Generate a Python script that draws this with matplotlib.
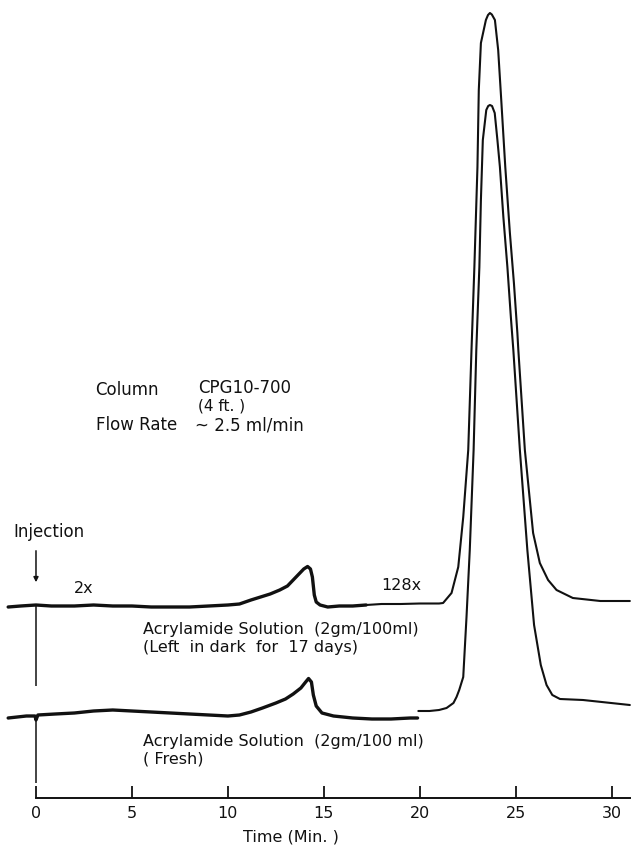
import matplotlib.pyplot as plt
import numpy as np

# Aged sample (left in dark for 17 days): retention time (min) and recorder response (chart units)
aged_time = [-1.45, -0.8, 0, 0.8, 2, 3, 4, 5, 6, 7, 8, 9, 10, 10.6, 11.2, 11.7, 12.2, 12.7,
             13.1, 13.4, 13.7, 13.95, 14.15, 14.3, 14.4, 14.5, 14.6, 14.8, 15.2, 15.8, 16.5,
             17.2, 18, 19, 20, 21, 21.21, 21.65, 22.0, 22.26, 22.52, 22.69, 22.84, 23.0,
             23.07, 23.18, 23.44, 23.55, 23.65, 23.75, 23.91, 24.08, 24.24, 24.45, 24.69, 24.9,
             25.08, 25.13, 25.47, 25.9, 26.25, 26.68, 27.12, 27.97, 29.4, 30.94]
aged_resp = [-1, 0, 1, 0, 0, 1, 0, 0, -1, -1, -1, 0, 1, 2, 6, 9, 12, 16,
             20, 26, 32, 37, 39.5, 37, 29, 11, 4, 1, -1, 0, 0,
             1, 2, 2, 2.5, 2.5, 3, 13, 39, 89, 156, 256, 339, 439,
             516, 563, 586, 591, 593, 591.5, 586, 556, 506, 439, 373, 323,
             273, 256, 156, 73, 43, 26, 16, 8, 5, 5]

# Fresh sample
fresh_time = [-1.45, -0.5, -0.05, 0, 0.1, 1, 2, 3, 4, 5, 6, 7, 8, 9, 10, 10.6, 11.2, 11.8,
              12.5, 13.0, 13.4, 13.8, 14.05, 14.2, 14.35, 14.45, 14.6, 14.9, 15.5, 16.5,
              17.5, 18.5, 19.5, 19.88, 19.92, 20.5, 21.0, 21.39, 21.75, 21.91, 22.05, 22.26,
              22.43, 22.6, 22.8, 22.94, 23.1, 23.18, 23.28, 23.46, 23.56, 23.65, 23.76,
              23.9, 24.04, 24.17, 24.35, 24.56, 24.74, 24.87, 25.21, 25.6, 25.95, 26.3, 26.6,
              26.9, 27.3, 28.5, 30.94]
fresh_resp = [-3, -1, -1, -5, 0, 1, 2, 4, 5, 4, 3, 2, 1, 0, -1, 0, 3, 7,
              12, 16, 21, 27, 33, 36.5, 33, 20, 9, 2, -1, -3,
              -4, -4, -3, -3, 4, 4, 5, 7, 12, 18, 25, 38,
              98, 165, 265, 365, 448, 515, 575, 605, 609, 610, 609,
              602, 575, 548, 498, 448, 398, 365, 265, 165, 90, 50, 30,
              20, 16, 15, 10]

# attenuation switched from 2x to 128x at these times
aged_switch = 17.2
fresh_switch = 19.9

time_ticks = [0, 5, 10, 15, 20, 25, 30]

# vertical placement of the two stacked traces
aged_base = 192
fresh_base = 83

plt.rcParams['font.family'] = ['DejaVu Sans']

fig = plt.figure(figsize=(6.31, 8.47), dpi=100)
ax = fig.add_axes([0, 0, 1, 1])
ax.set_xlim(-1.875, 31.0)
ax.set_ylim(-49, 798)

ink = '#111111'
for t, r, base, switch in [(aged_time, aged_resp, aged_base, aged_switch),
                           (fresh_time, fresh_resp, fresh_base, fresh_switch)]:
    t = np.array(t)
    y = np.array(r) + base
    low = t <= switch
    high = t >= switch
    ax.plot(t[low], y[low], color=ink, lw=2.4, solid_joinstyle='round', solid_capstyle='round')
    ax.plot(t[high], y[high], color=ink, lw=1.5, solid_joinstyle='round', solid_capstyle='round')

# injection marks
ax.vlines(0, aged_base - 80, aged_base, color=ink, lw=1.1)
ax.vlines(0, fresh_base - 68, fresh_base, color=ink, lw=1.1)
ax.annotate('', xy=(0, aged_base + 21), xytext=(0, aged_base + 58),
            arrowprops=dict(arrowstyle='-|>', color=ink, lw=1.1, mutation_scale=7))
ax.text(-1.2, aged_base + 74, 'Injection', fontsize=12, ha='left', va='center', color=ink)

# attenuation labels
ax.text(1.98, aged_base + 18, '2x', fontsize=11.5, ha='left', va='center', color=ink)
ax.text(18.0, aged_base + 21, '128x', fontsize=11.5, ha='left', va='center', color=ink)

# sample labels
ax.text(5.57, aged_base - 23, 'Acrylamide Solution  (2gm/100ml)', fontsize=11.5, ha='left', va='center', color=ink)
ax.text(5.57, aged_base - 41, '(Left  in dark  for  17 days)', fontsize=11.5, ha='left', va='center', color=ink)
ax.text(5.57, fresh_base - 26, 'Acrylamide Solution  (2gm/100 ml)', fontsize=11.5, ha='left', va='center', color=ink)
ax.text(5.57, fresh_base - 44, '( Fresh)', fontsize=11.5, ha='left', va='center', color=ink)

# run conditions
ax.text(3.07, 408, 'Column', fontsize=12, ha='left', va='center', color=ink)
ax.text(8.44, 410, 'CPG10-700', fontsize=12, ha='left', va='center', color=ink)
ax.text(8.44, 392, '(4 ft. )', fontsize=11, ha='left', va='center', color=ink)
ax.text(3.12, 373, 'Flow Rate', fontsize=12, ha='left', va='center', color=ink)
ax.text(8.3, 373, '~ 2.5 ml/min', fontsize=12, ha='left', va='center', color=ink)

# time axis
for side in ['top', 'right', 'left']:
    ax.spines[side].set_visible(False)
ax.spines['bottom'].set_position(('data', 0))
ax.spines['bottom'].set_bounds(0, 31)
ax.spines['bottom'].set_linewidth(1.4)
ax.spines['bottom'].set_color(ink)
ax.set_xticks(time_ticks)
ax.tick_params(axis='x', direction='in', length=9, width=1.3, colors=ink, labelsize=11.5, pad=6)
ax.set_yticks([])
ax.text(13.3, -39, 'Time (Min. )', fontsize=11.5, ha='center', va='center', color=ink)

fig.savefig('out.png', dpi=100, facecolor='white')
